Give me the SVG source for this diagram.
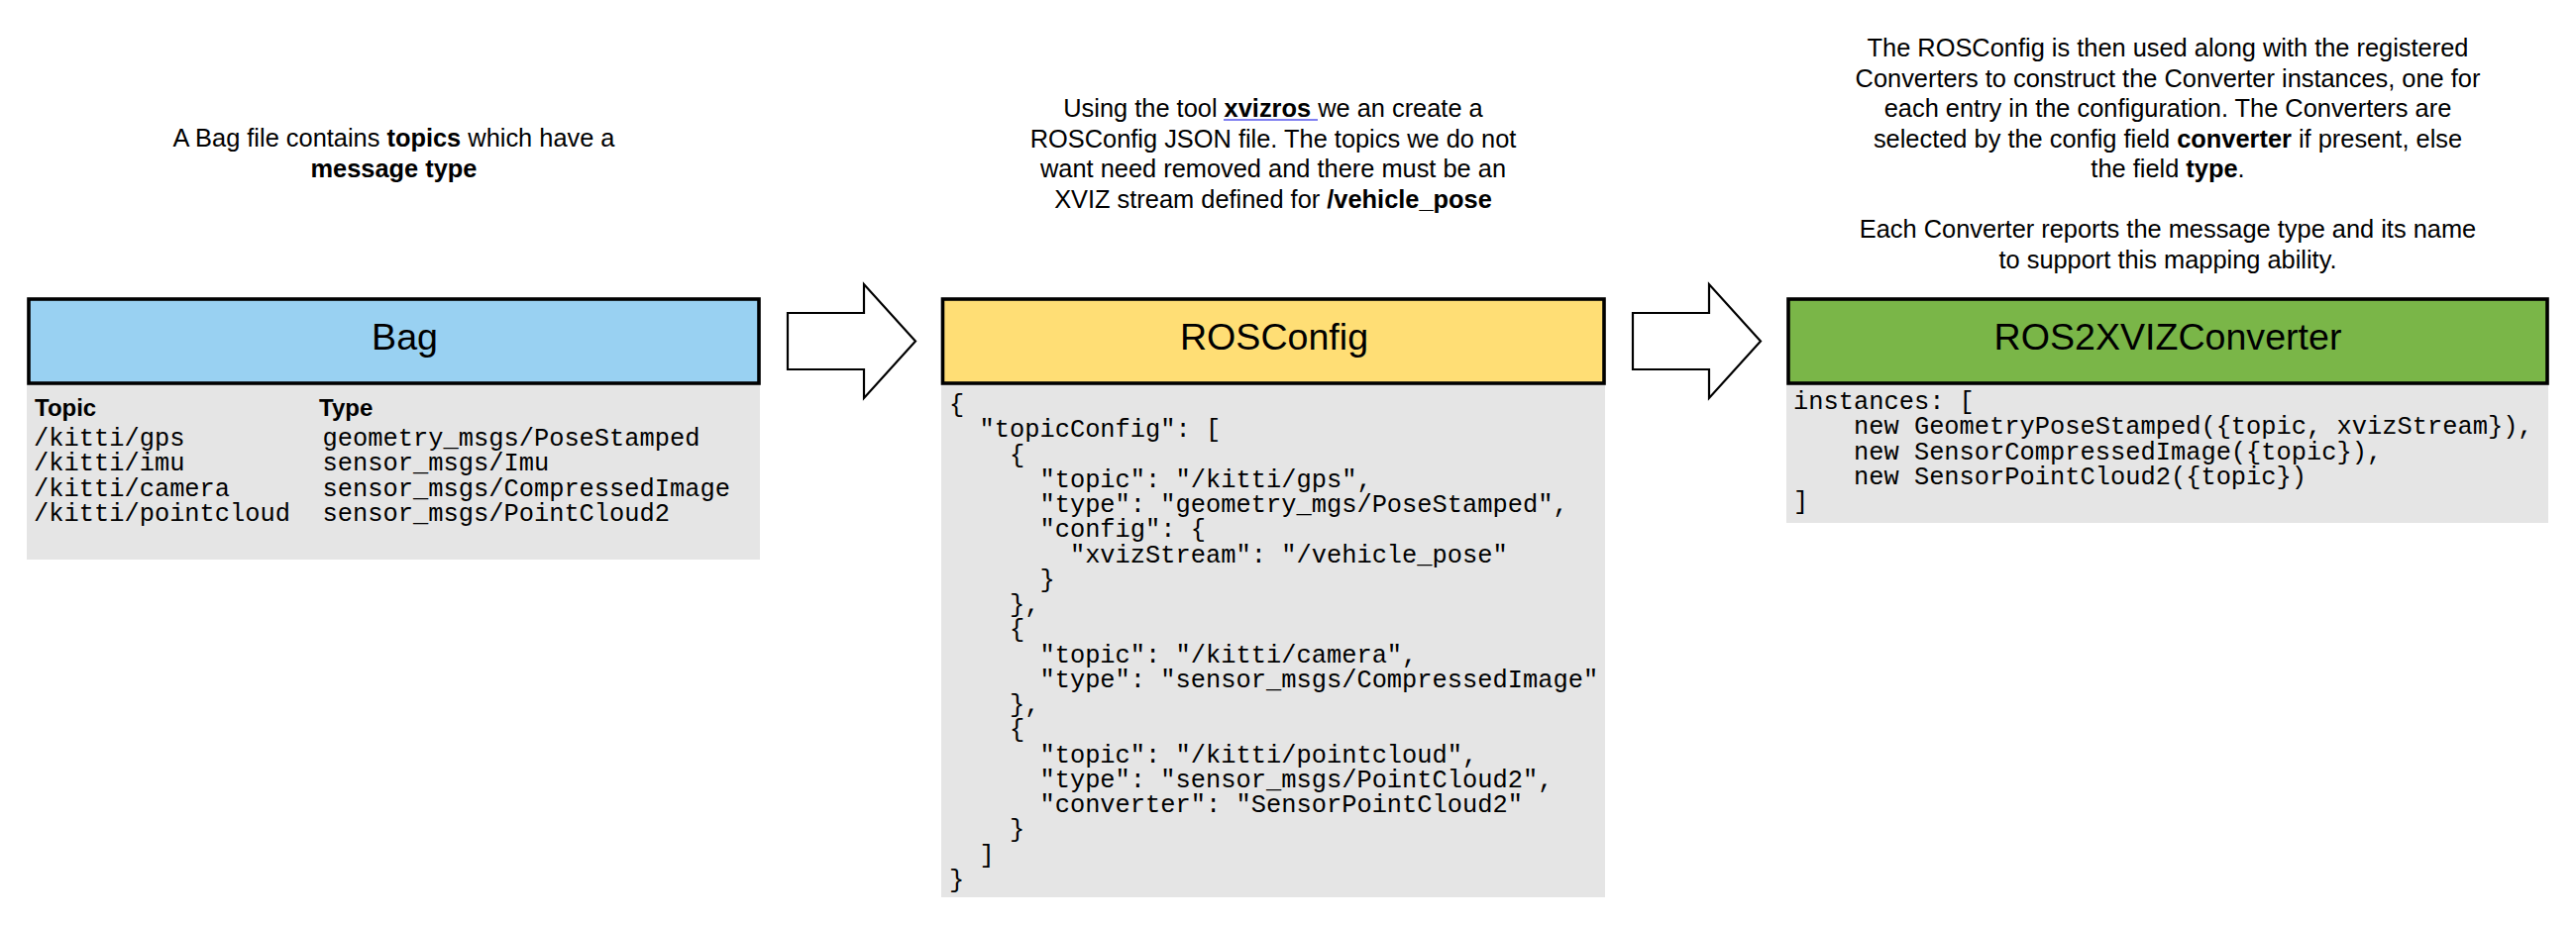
<svg xmlns="http://www.w3.org/2000/svg" width="2600" height="936" viewBox="0 0 2600 936">
<style>
.hdr{stroke:#000;stroke-width:3.6}
.body{fill:#e5e5e5}
.title{font-family:"Liberation Sans",Arial,sans-serif;font-size:37.6px;fill:#000;text-anchor:middle}
.note{font-family:"Liberation Sans",Arial,sans-serif;font-size:25.4px;fill:#000;text-anchor:middle}
.b{font-weight:bold}
.mono{font-family:"Liberation Mono","Courier New",monospace;font-size:25.4px;fill:#000}
.colh{font-family:"Liberation Sans",Arial,sans-serif;font-size:24px;font-weight:bold;fill:#000}
.arrow{fill:#fff;stroke:#000;stroke-width:2.2;stroke-linejoin:miter}
</style>
<rect width="2600" height="936" fill="#fff"/>

<g id="note-bag">
<text class="note" x="397.5" y="148">A Bag file contains <tspan class="b">topics</tspan> which have a</text>
<text class="note" x="397.5" y="178.5"><tspan class="b">message type</tspan></text>
</g>

<g id="note-rosconfig">
<text class="note" x="1285" y="118">Using the tool <tspan class="b">xvizros</tspan> we an create a</text>
<line x1="1235" y1="121" x2="1330" y2="121" stroke="#7f7ff0" stroke-width="2"/>
<text class="note" x="1285" y="148.5">ROSConfig JSON file. The topics we do not</text>
<text class="note" x="1285" y="179">want need removed and there must be an</text>
<text class="note" x="1285" y="209.5">XVIZ stream defined for <tspan class="b">/vehicle_pose</tspan></text>
</g>

<g id="note-converter">
<text class="note" x="2188" y="57">The ROSConfig is then used along with the registered</text>
<text class="note" x="2188" y="87.5">Converters to construct the Converter instances, one for</text>
<text class="note" x="2188" y="118">each entry in the configuration. The Converters are</text>
<text class="note" x="2188" y="148.5">selected by the config field <tspan class="b">converter</tspan> if present, else</text>
<text class="note" x="2188" y="179">the field <tspan class="b">type</tspan>.</text>
<text class="note" x="2188" y="240">Each Converter reports the message type and its name</text>
<text class="note" x="2188" y="270.5">to support this mapping ability.</text>
</g>

<g id="bag">
<rect class="body" x="27" y="389" width="740" height="176"/>
<rect class="hdr" x="29" y="302" width="737" height="85" fill="#99d1f2"/>
<text class="title" x="408.5" y="353">Bag</text>
<text class="colh" x="35" y="420">Topic</text>
<text class="colh" x="322" y="420">Type</text>
<text class="mono" x="34" y="450">/kitti/gps</text>
<text class="mono" x="34" y="475.3">/kitti/imu</text>
<text class="mono" x="34" y="500.6">/kitti/camera</text>
<text class="mono" x="34" y="526">/kitti/pointcloud</text>
<text class="mono" x="325.6" y="450">geometry_msgs/PoseStamped</text>
<text class="mono" x="325.6" y="475.3">sensor_msgs/Imu</text>
<text class="mono" x="325.6" y="500.6">sensor_msgs/CompressedImage</text>
<text class="mono" x="325.6" y="526">sensor_msgs/PointCloud2</text>
</g>

<g id="rosconfig">
<rect class="body" x="950" y="389" width="670" height="517"/>
<rect class="hdr" x="951.5" y="302" width="667.5" height="85" fill="#ffde75"/>
<text class="title" x="1286" y="353">ROSConfig</text>
<text class="mono" xml:space="preserve" x="958" y="416">{</text>
<text class="mono" xml:space="preserve" x="958" y="441.25">  "topicConfig": [</text>
<text class="mono" xml:space="preserve" x="958" y="466.5">    {</text>
<text class="mono" xml:space="preserve" x="958" y="491.75">      "topic": "/kitti/gps",</text>
<text class="mono" xml:space="preserve" x="958" y="517">      "type": "geometry_mgs/PoseStamped",</text>
<text class="mono" xml:space="preserve" x="958" y="542.25">      "config": {</text>
<text class="mono" xml:space="preserve" x="958" y="567.5">        "xvizStream": "/vehicle_pose"</text>
<text class="mono" xml:space="preserve" x="958" y="592.75">      }</text>
<text class="mono" xml:space="preserve" x="958" y="618">    },</text>
<text class="mono" xml:space="preserve" x="958" y="643.25">    {</text>
<text class="mono" xml:space="preserve" x="958" y="668.5">      "topic": "/kitti/camera",</text>
<text class="mono" xml:space="preserve" x="958" y="693.75">      "type": "sensor_msgs/CompressedImage"</text>
<text class="mono" xml:space="preserve" x="958" y="719">    },</text>
<text class="mono" xml:space="preserve" x="958" y="744.25">    {</text>
<text class="mono" xml:space="preserve" x="958" y="769.5">      "topic": "/kitti/pointcloud",</text>
<text class="mono" xml:space="preserve" x="958" y="794.75">      "type": "sensor_msgs/PointCloud2",</text>
<text class="mono" xml:space="preserve" x="958" y="820">      "converter": "SensorPointCloud2"</text>
<text class="mono" xml:space="preserve" x="958" y="845.25">    }</text>
<text class="mono" xml:space="preserve" x="958" y="870.5">  ]</text>
<text class="mono" xml:space="preserve" x="958" y="895.75">}</text>
</g>

<g id="ros2xvizconverter">
<rect class="body" x="1803" y="389" width="769" height="139"/>
<rect class="hdr" x="1805" y="302" width="766" height="85" fill="#7ab648"/>
<text class="title" x="2188" y="353">ROS2XVIZConverter</text>
<text class="mono" xml:space="preserve" x="1810" y="413">instances: [</text>
<text class="mono" xml:space="preserve" x="1810" y="438.3">    new GeometryPoseStamped({topic, xvizStream}),</text>
<text class="mono" xml:space="preserve" x="1810" y="463.6">    new SensorCompressedImage({topic}),</text>
<text class="mono" xml:space="preserve" x="1810" y="489">    new SensorPointCloud2({topic})</text>
<text class="mono" xml:space="preserve" x="1810" y="514">]</text>
</g>

<g id="connectors">
<path class="arrow" d="M795,316 H872 V287 L924,344.5 L872,402 V373 H795 Z"/>
<path class="arrow" d="M1648,316 H1725 V287 L1777,344.5 L1725,402 V373 H1648 Z"/>
</g>
</svg>
